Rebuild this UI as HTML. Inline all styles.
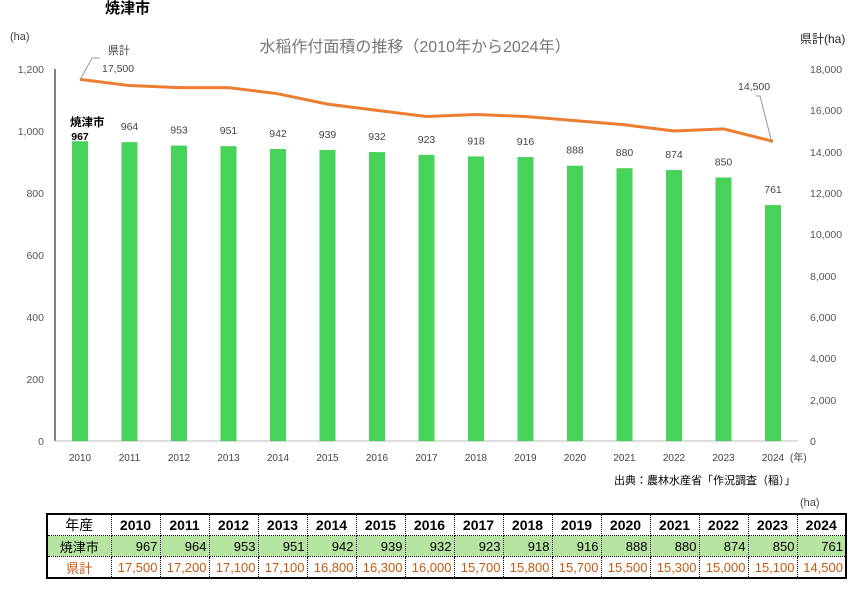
<!DOCTYPE html><html><head><meta charset="utf-8"><style>
body{margin:0;width:854px;height:594px;background:#fff;overflow:hidden;font-family:"Liberation Sans","Noto Sans CJK JP",sans-serif}
svg text{font-family:"Liberation Sans","Noto Sans CJK JP",sans-serif}
table{position:absolute;left:46px;top:513px;border-collapse:collapse;border:2px solid #000;font-size:13px;table-layout:fixed;width:800px}
td{border:1px dotted #000;height:20px;padding:0 2px;text-align:right;overflow:hidden;white-space:nowrap}
td:first-child{text-align:center}
tr.h td{text-align:center;font-weight:bold;font-size:14px}
tr.g td{background:#b6e5a1}
tr.o td{color:#c55a11}
</style></head><body>
<svg width="854" height="594" style="position:absolute;left:0;top:0">
<text x="105" y="13" font-size="15" font-weight="bold">焼津市</text>
<text x="10" y="40" font-size="11" fill="#444">(ha)</text>
<text x="800" y="43" font-size="12" fill="#222">県計(ha)</text>
<text x="415" y="52" font-size="16" fill="#777" text-anchor="middle">水稲作付面積の推移（2010年から2024年）</text>
<line x1="55" y1="69" x2="55" y2="441" stroke="#000"/>
<line x1="55" y1="441" x2="798" y2="441" stroke="#bbb"/>
<g font-size="10.5" fill="#555" text-anchor="end">
<text x="44" y="73">1,200</text><text x="44" y="135">1,000</text><text x="44" y="197">800</text><text x="44" y="259">600</text><text x="44" y="321">400</text><text x="44" y="383">200</text><text x="44" y="445">0</text></g>
<g font-size="10.5" fill="#555" text-anchor="start">
<text x="810" y="73">18,000</text><text x="810" y="114">16,000</text><text x="810" y="156">14,000</text><text x="810" y="197">12,000</text><text x="810" y="238">10,000</text><text x="810" y="280">8,000</text><text x="810" y="321">6,000</text><text x="810" y="362">4,000</text><text x="810" y="404">2,000</text><text x="810" y="445">0</text></g>
<g id="bars"></g>
<polyline id="ln" fill="none" stroke="#ed7d31" stroke-width="3"/>
<polyline points="80,80 92,58 100,58" fill="none" stroke="#999"/>
<text x="108" y="54" font-size="11" fill="#444">県計</text>
<text x="102" y="72" font-size="10.5" fill="#444">17,500</text>
<text x="738" y="90" font-size="10.5" fill="#444">14,500</text>
<polyline points="772,143 760,96 756,96" fill="none" stroke="#999"/>
<text x="70" y="126" font-size="11.5" font-weight="bold">焼津市</text>
<text x="614" y="484" font-size="11">出典：農林水産省「作況調査（稲）」</text>
<text x="800" y="506" font-size="11" fill="#444">(ha)</text>
</svg>
<table>
<colgroup><col style="width:64px"><col span="15" style="width:49px"></colgroup>
<tr class="h"><td style="font-weight:normal">年産</td><td>2010</td><td>2011</td><td>2012</td><td>2013</td><td>2014</td><td>2015</td><td>2016</td><td>2017</td><td>2018</td><td>2019</td><td>2020</td><td>2021</td><td>2022</td><td>2023</td><td>2024</td></tr>
<tr class="g"><td>焼津市</td><td>967</td><td>964</td><td>953</td><td>951</td><td>942</td><td>939</td><td>932</td><td>923</td><td>918</td><td>916</td><td>888</td><td>880</td><td>874</td><td>850</td><td>761</td></tr>
<tr class="o"><td>県計</td><td>17,500</td><td>17,200</td><td>17,100</td><td>17,100</td><td>16,800</td><td>16,300</td><td>16,000</td><td>15,700</td><td>15,800</td><td>15,700</td><td>15,500</td><td>15,300</td><td>15,000</td><td>15,100</td><td>14,500</td></tr>
</table>
<script>
var a=[967,964,953,951,942,939,932,923,918,916,888,880,874,850,761],k=[17500,17200,17100,17100,16800,16300,16000,15700,15800,15700,15500,15300,15000,15100,14500];
var g=document.getElementById('bars'),s='',p=[];
for(var i=0;i<15;i++){var x=80+i*49.5,y=441-a[i]*0.31;
s+='<rect x="'+(x-8)+'" y="'+y+'" width="16" height="'+(441-y)+'" fill="#47d25a"/>';
s+='<text x="'+x+'" y="'+(i==0?y-1:y-12)+'" font-size="10.5" text-anchor="middle"'+(i==0?' font-weight="bold" fill="#000"':' fill="#444"')+'>'+a[i]+'</text>';
s+='<text x="'+x+'" y="461" font-size="10" fill="#444" text-anchor="middle">'+(2010+i)+'</text>';
p.push(x+','+(441-k[i]*372/18000));}
s+='<text x="790" y="461" font-size="10" fill="#444">(年)</text>';
g.innerHTML=s;document.getElementById('ln').setAttribute('points',p.join(' '));
</script>
</body></html>
